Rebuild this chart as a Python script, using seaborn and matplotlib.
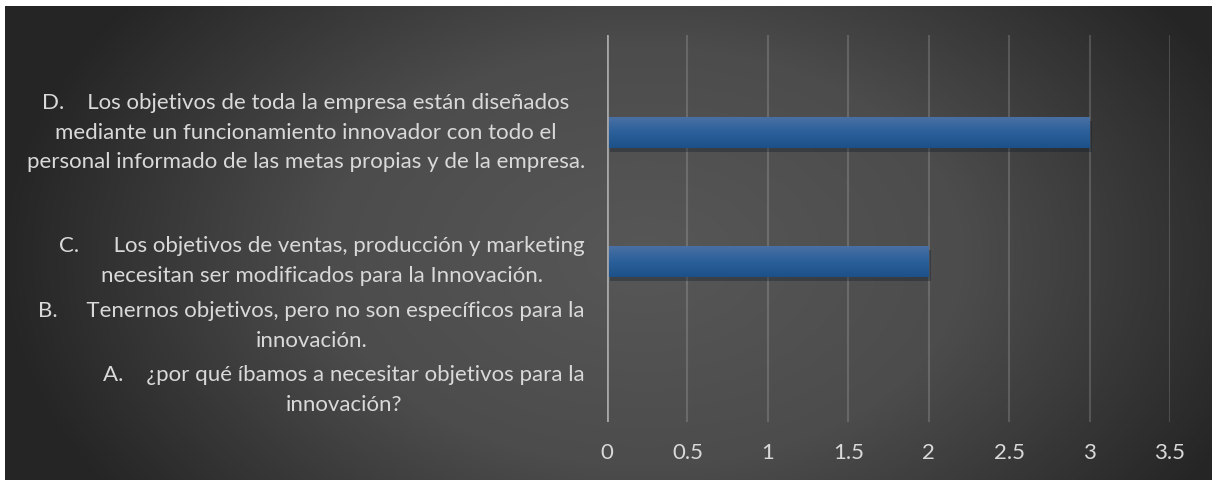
import numpy as np
import pandas as pd
import matplotlib
matplotlib.use("Agg")
import matplotlib.pyplot as plt
import matplotlib.patheffects as pe
from matplotlib.colors import LinearSegmentedColormap
import seaborn as sns

# Data
categories = ["D", "C", "B", "A"]
values = [3, 2, 0, 0]
labels = [
    "D.    Los objetivos de toda la empresa están diseñados\n"
    "mediante un funcionamiento innovador con todo el\n"
    "personal informado de las metas propias y de la empresa.",
    "C.      Los objetivos de ventas, producción y marketing\n"
    "necesitan ser modificados para la Innovación.",
    "B.     Tenernos objetivos, pero no son específicos para la\n"
    "innovación.",
    "A.    ¿por qué íbamos a necesitar objetivos para la\n"
    "innovación?",
]
label_pos = [0, 1, 1.5, 2]
xticks = [0, 0.5, 1, 1.5, 2, 2.5, 3, 3.5]

df = pd.DataFrame({"cat": categories, "val": values})

sns.set_style("dark")
plt.rcParams["font.family"] = ["Lato", "DejaVu Sans"]

fig = plt.figure(figsize=(12.12, 4.8), dpi=100, facecolor="white")

# dark radial background
bg = fig.add_axes([5 / 1212, 0, 1 - 5 / 1212, 474 / 480])
W, H = 1207, 474
yy, xx = np.mgrid[0:H, 0:W]
r = np.sqrt(((xx - 640) / 640.0) ** 2 + ((yy - 250) / 420.0) ** 2)
r = np.clip(r, 0, 1)
cmap = LinearSegmentedColormap.from_list("bg", ["#575757", "#4c4c4c", "#262626"])
bg.imshow(r, cmap=cmap, aspect="auto", extent=[0, 1, 0, 1], vmin=0, vmax=1)
bg.axis("off")

ax = fig.add_axes([607 / 1212, 58 / 480, 563 / 1212, 387 / 480])
ax.patch.set_alpha(0)

sns.barplot(data=df, x="val", y="cat", order=categories, color="#285d99",
            width=0.24, linewidth=0, ax=ax, zorder=3)

grad = LinearSegmentedColormap.from_list("bar", ["#1b5188", "#2a5f9a", "#4a70a3"])
for p in ax.patches:
    if p.get_width() <= 0:
        continue
    p.set_path_effects([pe.SimplePatchShadow(offset=(2, -3), alpha=0.35), pe.Normal()])
    x0, y0 = p.get_x(), p.get_y()
    im = ax.imshow(np.linspace(0, 1, 50).reshape(-1, 1), cmap=grad, aspect="auto",
                   extent=[x0, x0 + p.get_width(), y0 + p.get_height(), y0],
                   zorder=4, origin="lower")
    im.set_clip_path(p)

ax.set_xlim(0, 3.5)
ax.set_ylim(2.249, -0.758)
ax.set_xticks(xticks)
ax.set_xticklabels([f"{t:g}" for t in xticks])
ax.set_yticks(label_pos)
ax.set_yticklabels(labels, multialignment="center", linespacing=1.62, va="center")
ax.tick_params(axis="both", length=0, colors="#d9d9d9", labelsize=16)
ax.tick_params(axis="y", pad=16)
ax.tick_params(axis="x", pad=15)
ax.set_xlabel("")
ax.set_ylabel("")
ax.grid(False)
for t in xticks[1:]:
    ax.axvline(t, color="white", alpha=0.16, lw=1.5, zorder=1)
ax.axvline(0, color="#a6a6a6", lw=2, zorder=5)
for s in ax.spines.values():
    s.set_visible(False)

fig.savefig("out.png", dpi=100, facecolor="white")
